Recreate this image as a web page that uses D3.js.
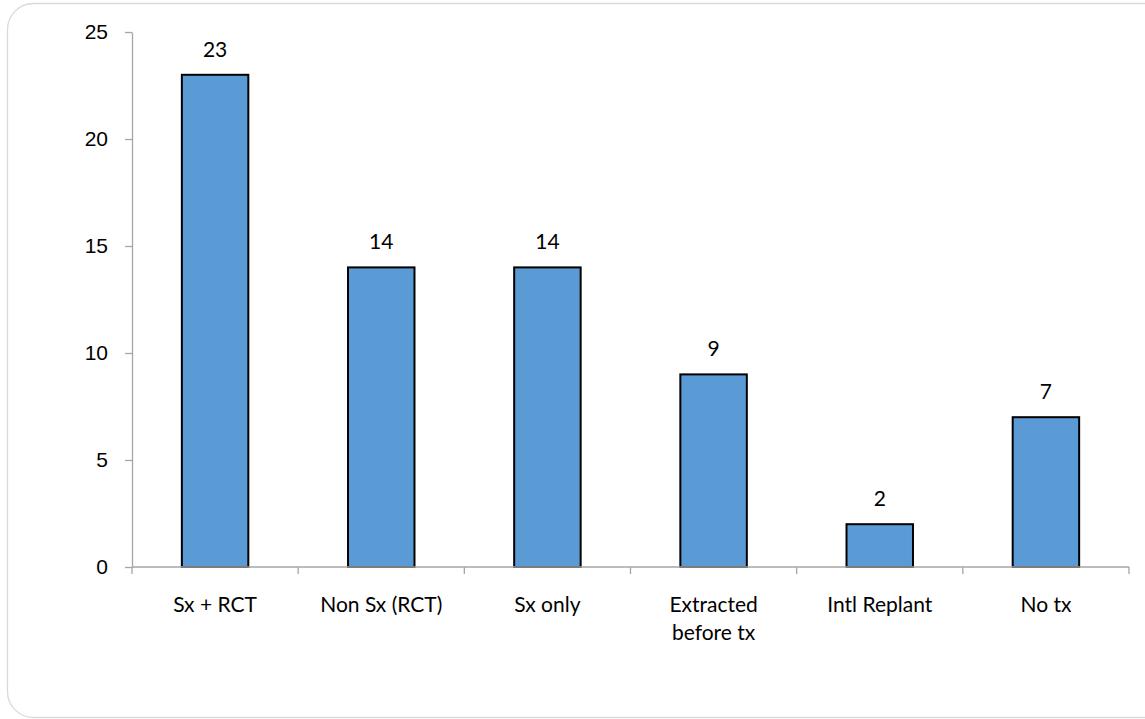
<!DOCTYPE html>
<html>
<head>
<meta charset="utf-8">
<script src="https://cdn.jsdelivr.net/npm/d3@7"></script>
<style>
  html, body { margin: 0; padding: 0; background: #fff; }
  svg { display: block; font-family: Lato, "Open Sans", sans-serif; }
</style>
</head>
<body>
<svg id="chart" width="1145" height="719"></svg>
<script>
// Treatment categories and patient counts
const categories = ["Sx + RCT", "Non Sx (RCT)", "Sx only", "Extracted\nbefore tx", "Intl Replant", "No tx"];
const counts = [23, 14, 14, 9, 2, 7];
const yTicks = [0, 5, 10, 15, 20, 25];

const svg = d3.select("#chart");
const margin = { left: 132, right: 16, top: 32, bottom: 152 };
const W = 1145, H = 719;
const fontSize = 21;

// Rounded outer frame
svg.append("rect")
  .attr("x", 7.5).attr("y", 3.5)
  .attr("width", 1170).attr("height", 714)
  .attr("rx", 26).attr("ry", 26)
  .attr("fill", "#fff").attr("stroke", "#d9d9d9").attr("stroke-width", 1.3);

const x = d3.scaleBand()
  .domain(categories)
  .range([margin.left, W - margin.right])
  .paddingInner(0.6).paddingOuter(0.3);

const y = d3.scaleLinear()
  .domain([0, 25])
  .range([H - margin.bottom, margin.top]);

const axisColor = "#a6a6a6";

// Y axis
const yAxis = svg.append("g")
  .attr("transform", `translate(${margin.left},0)`)
  .call(d3.axisLeft(y).tickValues(yTicks).tickSize(7).tickPadding(17).tickSizeOuter(0));
yAxis.select(".domain").attr("stroke", axisColor).attr("stroke-width", 1.3);
yAxis.selectAll(".tick line").attr("stroke", axisColor).attr("stroke-width", 1.3);
yAxis.selectAll(".tick text").attr("font-size", fontSize).attr("fill", "#000");

// Bars
svg.append("g").selectAll("rect")
  .data(categories)
  .join("rect")
  .attr("x", d => x(d))
  .attr("y", (d, i) => y(counts[i]))
  .attr("width", x.bandwidth())
  .attr("height", (d, i) => y(0) - y(counts[i]))
  .attr("fill", "#5b9bd5")
  .attr("stroke", "#000")
  .attr("stroke-width", 2);

// X axis with ticks between categories
const xg = svg.append("g").attr("transform", `translate(0,${y(0)})`);
xg.append("line")
  .attr("x1", margin.left).attr("x2", W - margin.right)
  .attr("stroke", axisColor).attr("stroke-width", 1.3);
const boundaries = d3.range(categories.length + 1).map(i => margin.left + i * (W - margin.left - margin.right) / categories.length);
xg.selectAll(".sep").data(boundaries).join("line")
  .attr("x1", d => d).attr("x2", d => d)
  .attr("y1", 0).attr("y2", 7)
  .attr("stroke", axisColor).attr("stroke-width", 1.3);

// Category labels (may wrap to two lines)
xg.selectAll(".cat").data(categories).join("text")
  .attr("text-anchor", "middle")
  .attr("font-size", fontSize)
  .attr("fill", "#000")
  .attr("transform", d => `translate(${x(d) + x.bandwidth() / 2},45)`)
  .each(function(d) {
    const t = d3.select(this);
    d.split("\n").forEach((line, i) => {
      t.append("tspan").attr("x", 0).attr("dy", i === 0 ? 0 : 28).text(line);
    });
  });

// Value labels
svg.append("g").selectAll("text")
  .data(categories)
  .join("text")
  .attr("x", d => x(d) + x.bandwidth() / 2)
  .attr("y", (d, i) => y(counts[i]) - 18)
  .attr("text-anchor", "middle")
  .attr("font-size", fontSize)
  .attr("fill", "#000")
  .text((d, i) => counts[i]);
</script>
</body>
</html>
